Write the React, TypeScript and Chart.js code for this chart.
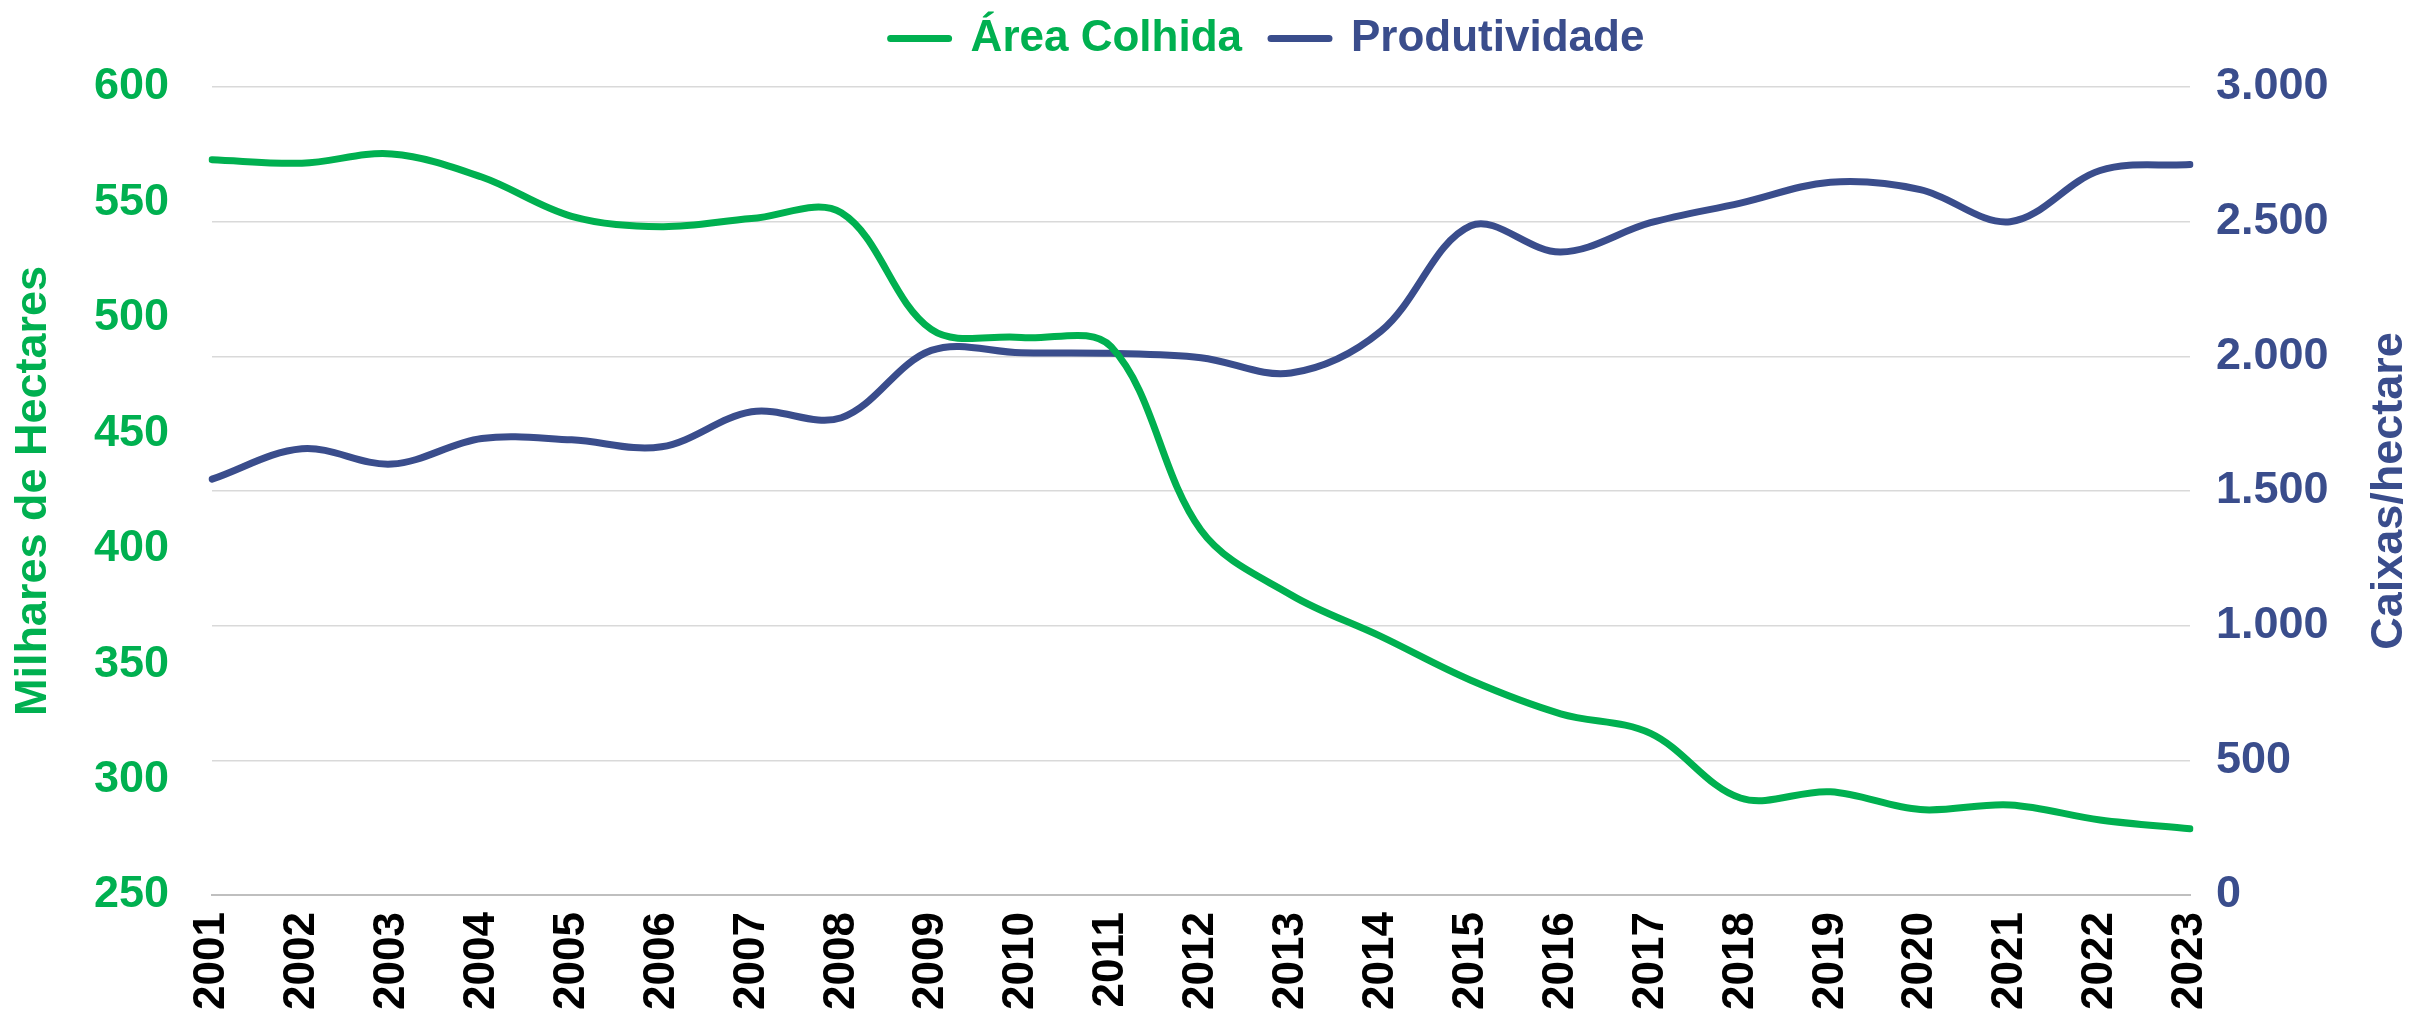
import React, { useEffect, useRef } from 'react';
import { Chart, registerables } from 'chart.js';

Chart.register(...registerables);

const years = ['2001', '2002', '2003', '2004', '2005', '2006', '2007', '2008', '2009', '2010', '2011', '2012', '2013', '2014', '2015', '2016', '2017', '2018', '2019', '2020', '2021', '2022', '2023'];
const areaColhida = [568.5, 567, 571, 561, 544, 539.5, 543, 545.5, 495, 491.5, 487.5, 408, 380, 362, 343, 328.5, 320, 292, 294.7, 287, 289, 282.5, 278.7];
const produtividade = [1544, 1657, 1600, 1695, 1690, 1664, 1794, 1772, 2022, 2013, 2011, 1995, 1938, 2093, 2485, 2387, 2496, 2569, 2646, 2619, 2500, 2690, 2712];

const seriesNames = ['Área Colhida', 'Produtividade'];
const axisTitles = ['Milhares de Hectares', 'Caixas/hectare'];

const GREEN = '#00B050';
const NAVY = '#3A4D8C';
const FONT = "'Liberation Sans', Arial, sans-serif";

const fmtThousands = (v: number) => String(v).replace(/\B(?=(\d{3})+(?!\d))/g, '.');

const layoutPlugin = {
  id: 'legendSpacer',
  beforeLayout(chart: any) {
    const lg = chart.legend;
    if (lg && !lg.__patched) {
      const orig = lg.fit.bind(lg);
      lg.fit = function () {
        orig();
        this.height += 16.5;
      };
      lg.__patched = true;
    }
  },
};

const axisTitlePlugin = {
  id: 'axisTitles',
  afterDraw(chart: any) {
    const { ctx, chartArea } = chart;
    const cy = (chartArea.top + chartArea.bottom) / 2;
    ctx.save();
    ctx.font = `bold 45px ${FONT}`;
    ctx.textAlign = 'center';
    ctx.textBaseline = 'middle';
    ctx.fillStyle = GREEN;
    ctx.translate(34, cy);
    ctx.rotate(-Math.PI / 2);
    ctx.fillText(axisTitles[0], 0, 0);
    ctx.restore();
    ctx.save();
    ctx.font = `bold 45px ${FONT}`;
    ctx.textAlign = 'center';
    ctx.textBaseline = 'middle';
    ctx.fillStyle = NAVY;
    ctx.translate(chart.width - 25, cy);
    ctx.rotate(-Math.PI / 2);
    ctx.fillText(axisTitles[1], 0, 0);
    ctx.restore();
  },
};

export default function App() {
  const ref = useRef<HTMLCanvasElement>(null);
  useEffect(() => {
    if (!ref.current) return;
    const chart = new Chart(ref.current, {
      type: 'line',
      data: {
        labels: years,
        datasets: [
          {
            label: seriesNames[0],
            data: areaColhida,
            yAxisID: 'yL',
            borderColor: GREEN,
            backgroundColor: GREEN,
            borderWidth: 7,
            borderJoinStyle: 'round',
            borderCapStyle: 'round',
            pointRadius: 0,
            tension: 0.35,
          },
          {
            label: seriesNames[1],
            data: produtividade,
            yAxisID: 'yR',
            borderColor: NAVY,
            backgroundColor: NAVY,
            borderWidth: 7,
            borderJoinStyle: 'round',
            borderCapStyle: 'round',
            pointRadius: 0,
            tension: 0.35,
          },
        ],
      },
      options: {
        animation: false,
        responsive: false,
        maintainAspectRatio: false,
        layout: { padding: { top: -12.5, left: 0, right: -120, bottom: 0 } },
        plugins: {
          tooltip: { enabled: false },
          legend: {
            position: 'top',
            align: 'center',
            labels: {
              font: { family: FONT, size: 44, weight: 'bold' },
              boxWidth: 58,
              boxHeight: 0,
              padding: 29,
              generateLabels: (chart: any) => {
                const items = Chart.defaults.plugins.legend.labels.generateLabels(chart);
                return items.map((it: any, i: number) => ({
                  ...it,
                  fontColor: i === 0 ? GREEN : NAVY,
                  lineJoin: 'round',
                  lineCap: 'round',
                  lineWidth: 7,
                }));
              },
            },
          },
        },
        scales: {
          x: {
            type: 'category',
            offset: false,
            grid: { display: false, drawTicks: false },
            border: { display: true, color: '#BFBFBF', width: 2 },
            ticks: {
              color: '#000000',
              font: { family: FONT, size: 44, weight: 'bold' },
              minRotation: 90,
              maxRotation: 90,
              autoSkip: false,
              padding: 17,
            },
            afterFit: (s: any) => { s.height = 120; },
          },
          yL: {
            type: 'linear',
            position: 'left',
            min: 250,
            max: 600,
            grid: { display: false, drawTicks: false },
            border: { display: false },
            ticks: {
              stepSize: 50,
              color: GREEN,
              font: { family: FONT, size: 45, weight: 'bold' },
              padding: 43,
            },
            afterFit: (s: any) => { s.width = 212; },
          },
          yR: {
            type: 'linear',
            position: 'right',
            min: 0,
            max: 3000,
            grid: { display: true, color: '#D9D9D9', lineWidth: 1.5, drawTicks: false },
            border: { display: false },
            ticks: {
              stepSize: 500,
              color: NAVY,
              font: { family: FONT, size: 45, weight: 'bold' },
              padding: 26,
              callback: (v: any) => fmtThousands(Number(v)),
            },
            afterFit: (s: any) => { s.width = 345; },
          },
        },
      },
      plugins: [layoutPlugin, axisTitlePlugin],
    } as any);
    return () => chart.destroy();
  }, []);
  return (
    <div style={{ position: 'absolute', left: 0, top: 0, width: 2415, height: 1015, background: '#ffffff' }}>
      <canvas ref={ref} width={2415} height={1015} style={{ width: 2415, height: 1015, display: 'block' }} />
    </div>
  );
}
